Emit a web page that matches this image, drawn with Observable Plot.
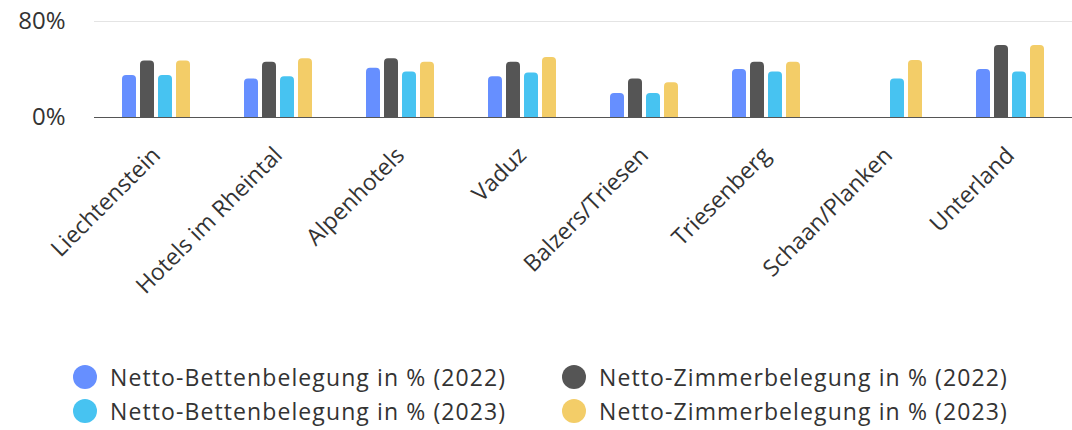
<!DOCTYPE html>
<html>
<head>
<meta charset="utf-8">
<script src="https://cdn.jsdelivr.net/npm/d3@7"></script>
<script src="https://cdn.jsdelivr.net/npm/@observablehq/plot@0.6"></script>
<style>
  html, body { margin: 0; padding: 0; background: #fff; }
  body { width: 1072px; height: 430px; overflow: hidden; font-family: "Open Sans", Lato, sans-serif; position: relative; }
  #legend { position: absolute; left: 0; top: 0; width: 1072px; height: 430px; pointer-events: none; }
  .item { position: absolute; display: flex; align-items: center; font-size: 23px; letter-spacing: 1.1px; color: #333; white-space: nowrap; }
  .dot { width: 24px; height: 24px; border-radius: 50%; margin-right: 13px; flex: none; }
</style>
</head>
<body>
<div id="chart"></div>
<div id="legend"></div>
<script>
const categories = ["Liechtenstein", "Hotels im Rheintal", "Alpenhotels", "Vaduz", "Balzers/Triesen", "Triesenberg", "Schaan/Planken", "Unterland"];
const seriesNames = [
  "Netto-Bettenbelegung in % (2022)",
  "Netto-Zimmerbelegung in % (2022)",
  "Netto-Bettenbelegung in % (2023)",
  "Netto-Zimmerbelegung in % (2023)"
];
const colors = ["#668FFF", "#555555", "#47C3F1", "#F3CD68"];
const betten2022 = [35, 32, 41, 34, 20, 40, null, 40];
const zimmer2022 = [47, 46, 49, 46, 32, 46, null, 60];
const betten2023 = [35, 34, 38, 37, 20, 38, 32, 38];
const zimmer2023 = [47, 49, 46, 50, 29, 46, 47.5, 60];
const yTicks = [0, 80];

const seriesValues = [betten2022, zimmer2022, betten2023, zimmer2023];
const data = [];
categories.forEach((c, i) => {
  seriesNames.forEach((s, j) => {
    const v = seriesValues[j][i];
    if (v != null) data.push({category: c, series: s, value: v});
  });
});

const chart = Plot.plot({
  width: 1072,
  height: 350,
  marginLeft: 93,
  marginRight: 0,
  marginTop: 21,
  marginBottom: 233,
  style: {fontFamily: "'Open Sans', Lato, sans-serif", color: "#333", background: "#fff"},
  fx: {domain: categories, paddingInner: 0.43, paddingOuter: 0.22, label: null},
  x: {domain: seriesNames, paddingInner: 0.24, paddingOuter: 0, axis: null},
  y: {domain: [0, 80], label: null},
  color: {domain: seriesNames, range: colors},
  marks: [
    Plot.ruleY([80], {stroke: "#e4e4e4", strokeWidth: 1, insetLeft: -27, insetRight: -27, shapeRendering: "crispEdges"}),
    Plot.barY(data, {fx: "category", x: "series", y: "value", fill: "series", rx1y1: 4, rx2y1: 4}),
    Plot.ruleY([0], {stroke: "#555", strokeWidth: 1.5, insetLeft: -27, insetRight: -27, shapeRendering: "crispEdges"}),
    Plot.axisY({ticks: yTicks, tickFormat: d => d + "%", tickSize: 0, tickPadding: 56, fontSize: 24, style: {letterSpacing: "1.5px"}, label: null}),
    Plot.axisFx({anchor: "bottom", tickRotate: -45, tickSize: 0, tickPadding: 34, fontSize: 23, style: {letterSpacing: "1.1px"}, label: null})
  ]
});
document.getElementById("chart").appendChild(chart);

const legendPos = [
  {left: 73, top: 377}, {left: 562, top: 377},
  {left: 73, top: 411}, {left: 562, top: 411}
];
const legend = document.getElementById("legend");
seriesNames.forEach((s, j) => {
  const el = document.createElement("div");
  el.className = "item";
  el.style.left = legendPos[j].left + "px";
  el.style.top = (legendPos[j].top - 14) + "px";
  el.style.height = "28px";
  const dot = document.createElement("span");
  dot.className = "dot";
  dot.style.background = colors[j];
  const txt = document.createElement("span");
  txt.textContent = s;
  el.appendChild(dot);
  el.appendChild(txt);
  legend.appendChild(el);
});
</script>
</body>
</html>
